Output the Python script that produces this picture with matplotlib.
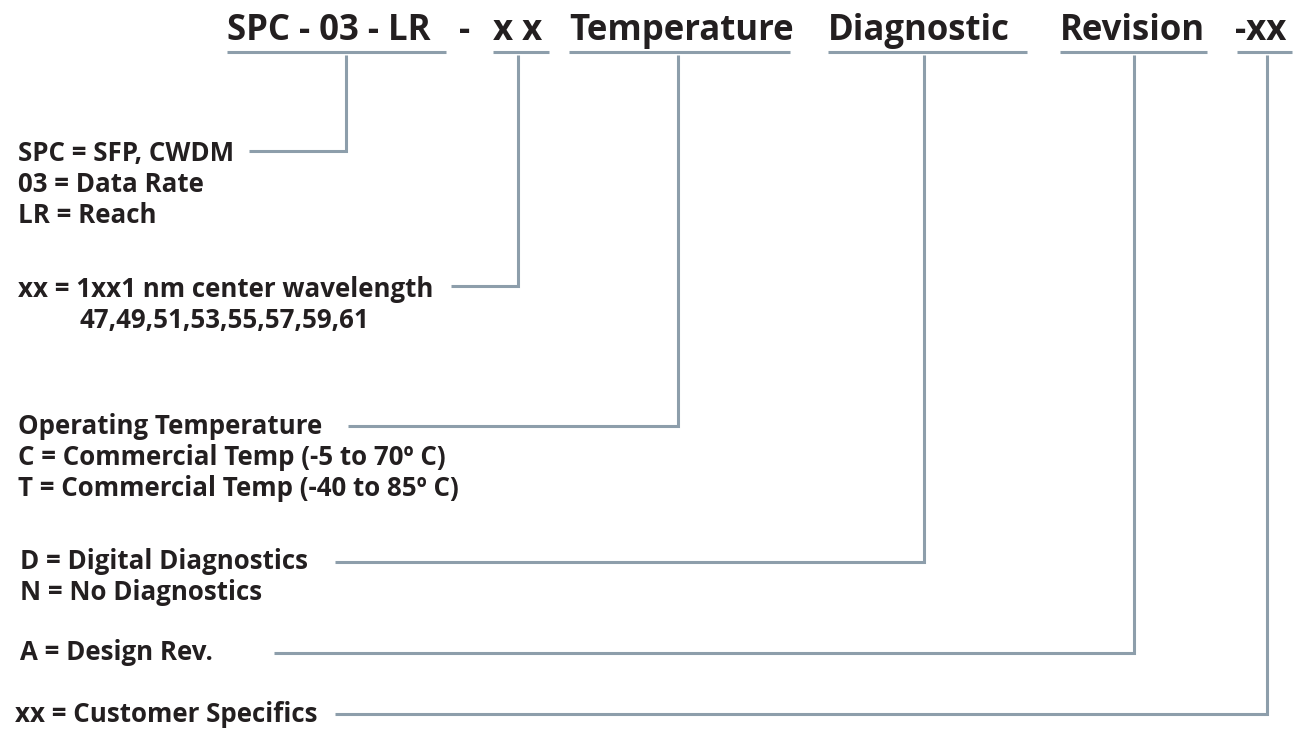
import matplotlib.pyplot as plt

# part number fields along the top
fields = ["SPC - 03 - LR", "x x", "Temperature", "Diagnostic", "Revision", "-xx"]
separator = "-"

# description blocks, one per field
descriptions = [
    ["SPC = SFP, CWDM", "03 = Data Rate", "LR = Reach"],
    ["xx = 1xx1 nm center wavelength", "47,49,51,53,55,57,59,61"],
    ["Operating Temperature", "C = Commercial Temp (-5 to 70\u00ba C)",
     "T = Commercial Temp (-40 to 85\u00ba C)"],
    ["D = Digital Diagnostics", "N = No Diagnostics"],
    ["A = Design Rev."],
    ["xx = Customer Specifics"],
]

# layout in pixels (y grows downward)
field_x = [227, 493, 569, 828, 1060, 1235]
ul_start = [227, 493, 569, 828, 1060, 1237]
ul_end = [446, 549, 790, 1027, 1207, 1292]
stem_x = [346, 518, 678, 924, 1134, 1267]
desc_x = [18, 18, 18, 20, 20, 15]
desc_y = [161, 297, 434, 569, 660, 722]   # baseline of first line
link_y = [151, 286, 426, 562, 653, 714]
link_start = [249, 451, 348, 335, 274, 335]
indent = {(1, 1): 62}   # wavelength list sits indented under its heading
line_gap = 31

ink = "#231f20"
rule = "#8d9eab"
font = "Open Sans"

fig = plt.figure(figsize=(13, 7.32), dpi=100)
ax = fig.add_axes([0, 0, 1, 1])
ax.set_xlim(0, 1300)
ax.set_ylim(732, 0)
ax.axis("off")

title_base = 40
ul_y = 52
for i, name in enumerate(fields):
    ax.text(field_x[i], title_base, name, fontsize=25, fontweight="bold",
            family=font, color=ink, va="baseline", ha="left")
    ax.plot([ul_start[i], ul_end[i]], [ul_y, ul_y], color=rule, lw=2.2,
            solid_capstyle="butt")
    ax.plot([stem_x[i], stem_x[i], link_start[i]],
            [ul_y + 3, link_y[i], link_y[i]], color=rule, lw=2.2,
            solid_capstyle="butt", solid_joinstyle="miter")
ax.text(465, title_base, separator, fontsize=25, fontweight="bold",
        family=font, color=ink, va="baseline", ha="center")

for i, block in enumerate(descriptions):
    for j, line in enumerate(block):
        x = desc_x[i] + indent.get((i, j), 0)
        ax.text(x, desc_y[i] + j * line_gap, line, fontsize=18.6,
                fontweight="bold", family=font, color=ink, va="baseline",
                ha="left")

fig.savefig("out.png", dpi=100, facecolor="white")
